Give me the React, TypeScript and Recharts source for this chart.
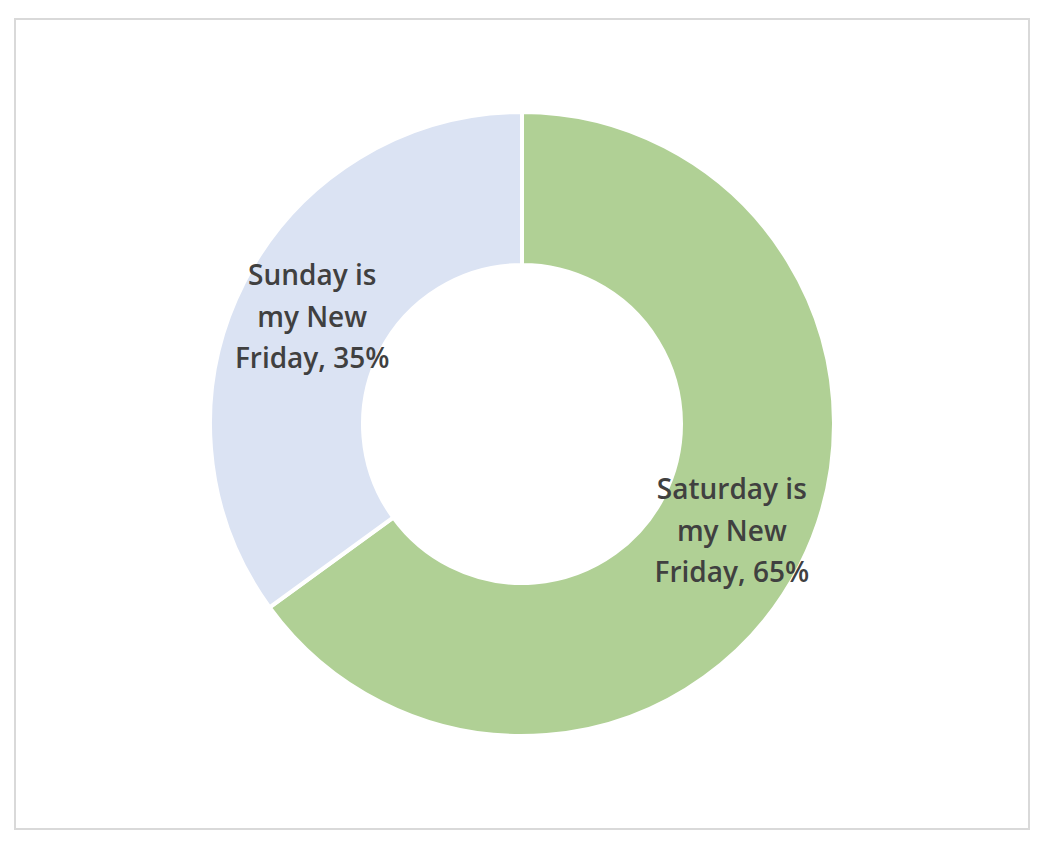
import React from 'react';
import { PieChart, Pie, Cell } from 'recharts';

const categories = ['Saturday is my New Friday', 'Sunday is my New Friday'];
const shares = [65, 35];
const labelLines = [
  ['Saturday is', 'my New', 'Friday, 65%'],
  ['Sunday is', 'my New', 'Friday, 35%'],
];
const COLORS = ['#b0d095', '#dbe3f3'];

const data = categories.map((name, i) => ({ name, value: shares[i], lines: labelLines[i] }));

const RAD = Math.PI / 180;

const renderLabel = (props: any) => {
  const { cx, cy, midAngle, innerRadius, outerRadius, index } = props;
  const r = (innerRadius + outerRadius) / 2;
  const x = cx + r * Math.cos(-midAngle * RAD);
  const y = cy + r * Math.sin(-midAngle * RAD);
  const lines = data[index].lines;
  const lh = 41.5;
  return (
    <text
      x={x}
      y={y}
      textAnchor="middle"
      fill="#404040"
      fontSize={28}
      fontWeight={600}
      fontFamily="'Open Sans', sans-serif"
    >
      {lines.map((ln: string, i: number) => (
        <tspan key={i} x={x} y={y + (i - 1) * lh} dy="0.35em">
          {ln}
        </tspan>
      ))}
    </text>
  );
};

export default function App() {
  return (
    <div
      style={{
        position: 'absolute',
        left: 14,
        top: 18,
        width: 1016,
        height: 812,
        border: '2px solid #d9d9d9',
        boxSizing: 'border-box',
        background: '#fff',
      }}
    >
      <PieChart width={1012} height={808} margin={{ top: 0, right: 0, bottom: 0, left: 0 }}>
        <Pie
          data={data}
          dataKey="value"
          cx={506}
          cy={404}
          innerRadius={159}
          outerRadius={312}
          startAngle={90}
          endAngle={-270}
          stroke="#ffffff"
          strokeWidth={4}
          label={renderLabel}
          labelLine={false}
          isAnimationActive={false}
        >
          {data.map((entry, index) => (
            <Cell key={`cell-${index}`} fill={COLORS[index]} />
          ))}
        </Pie>
      </PieChart>
    </div>
  );
}
